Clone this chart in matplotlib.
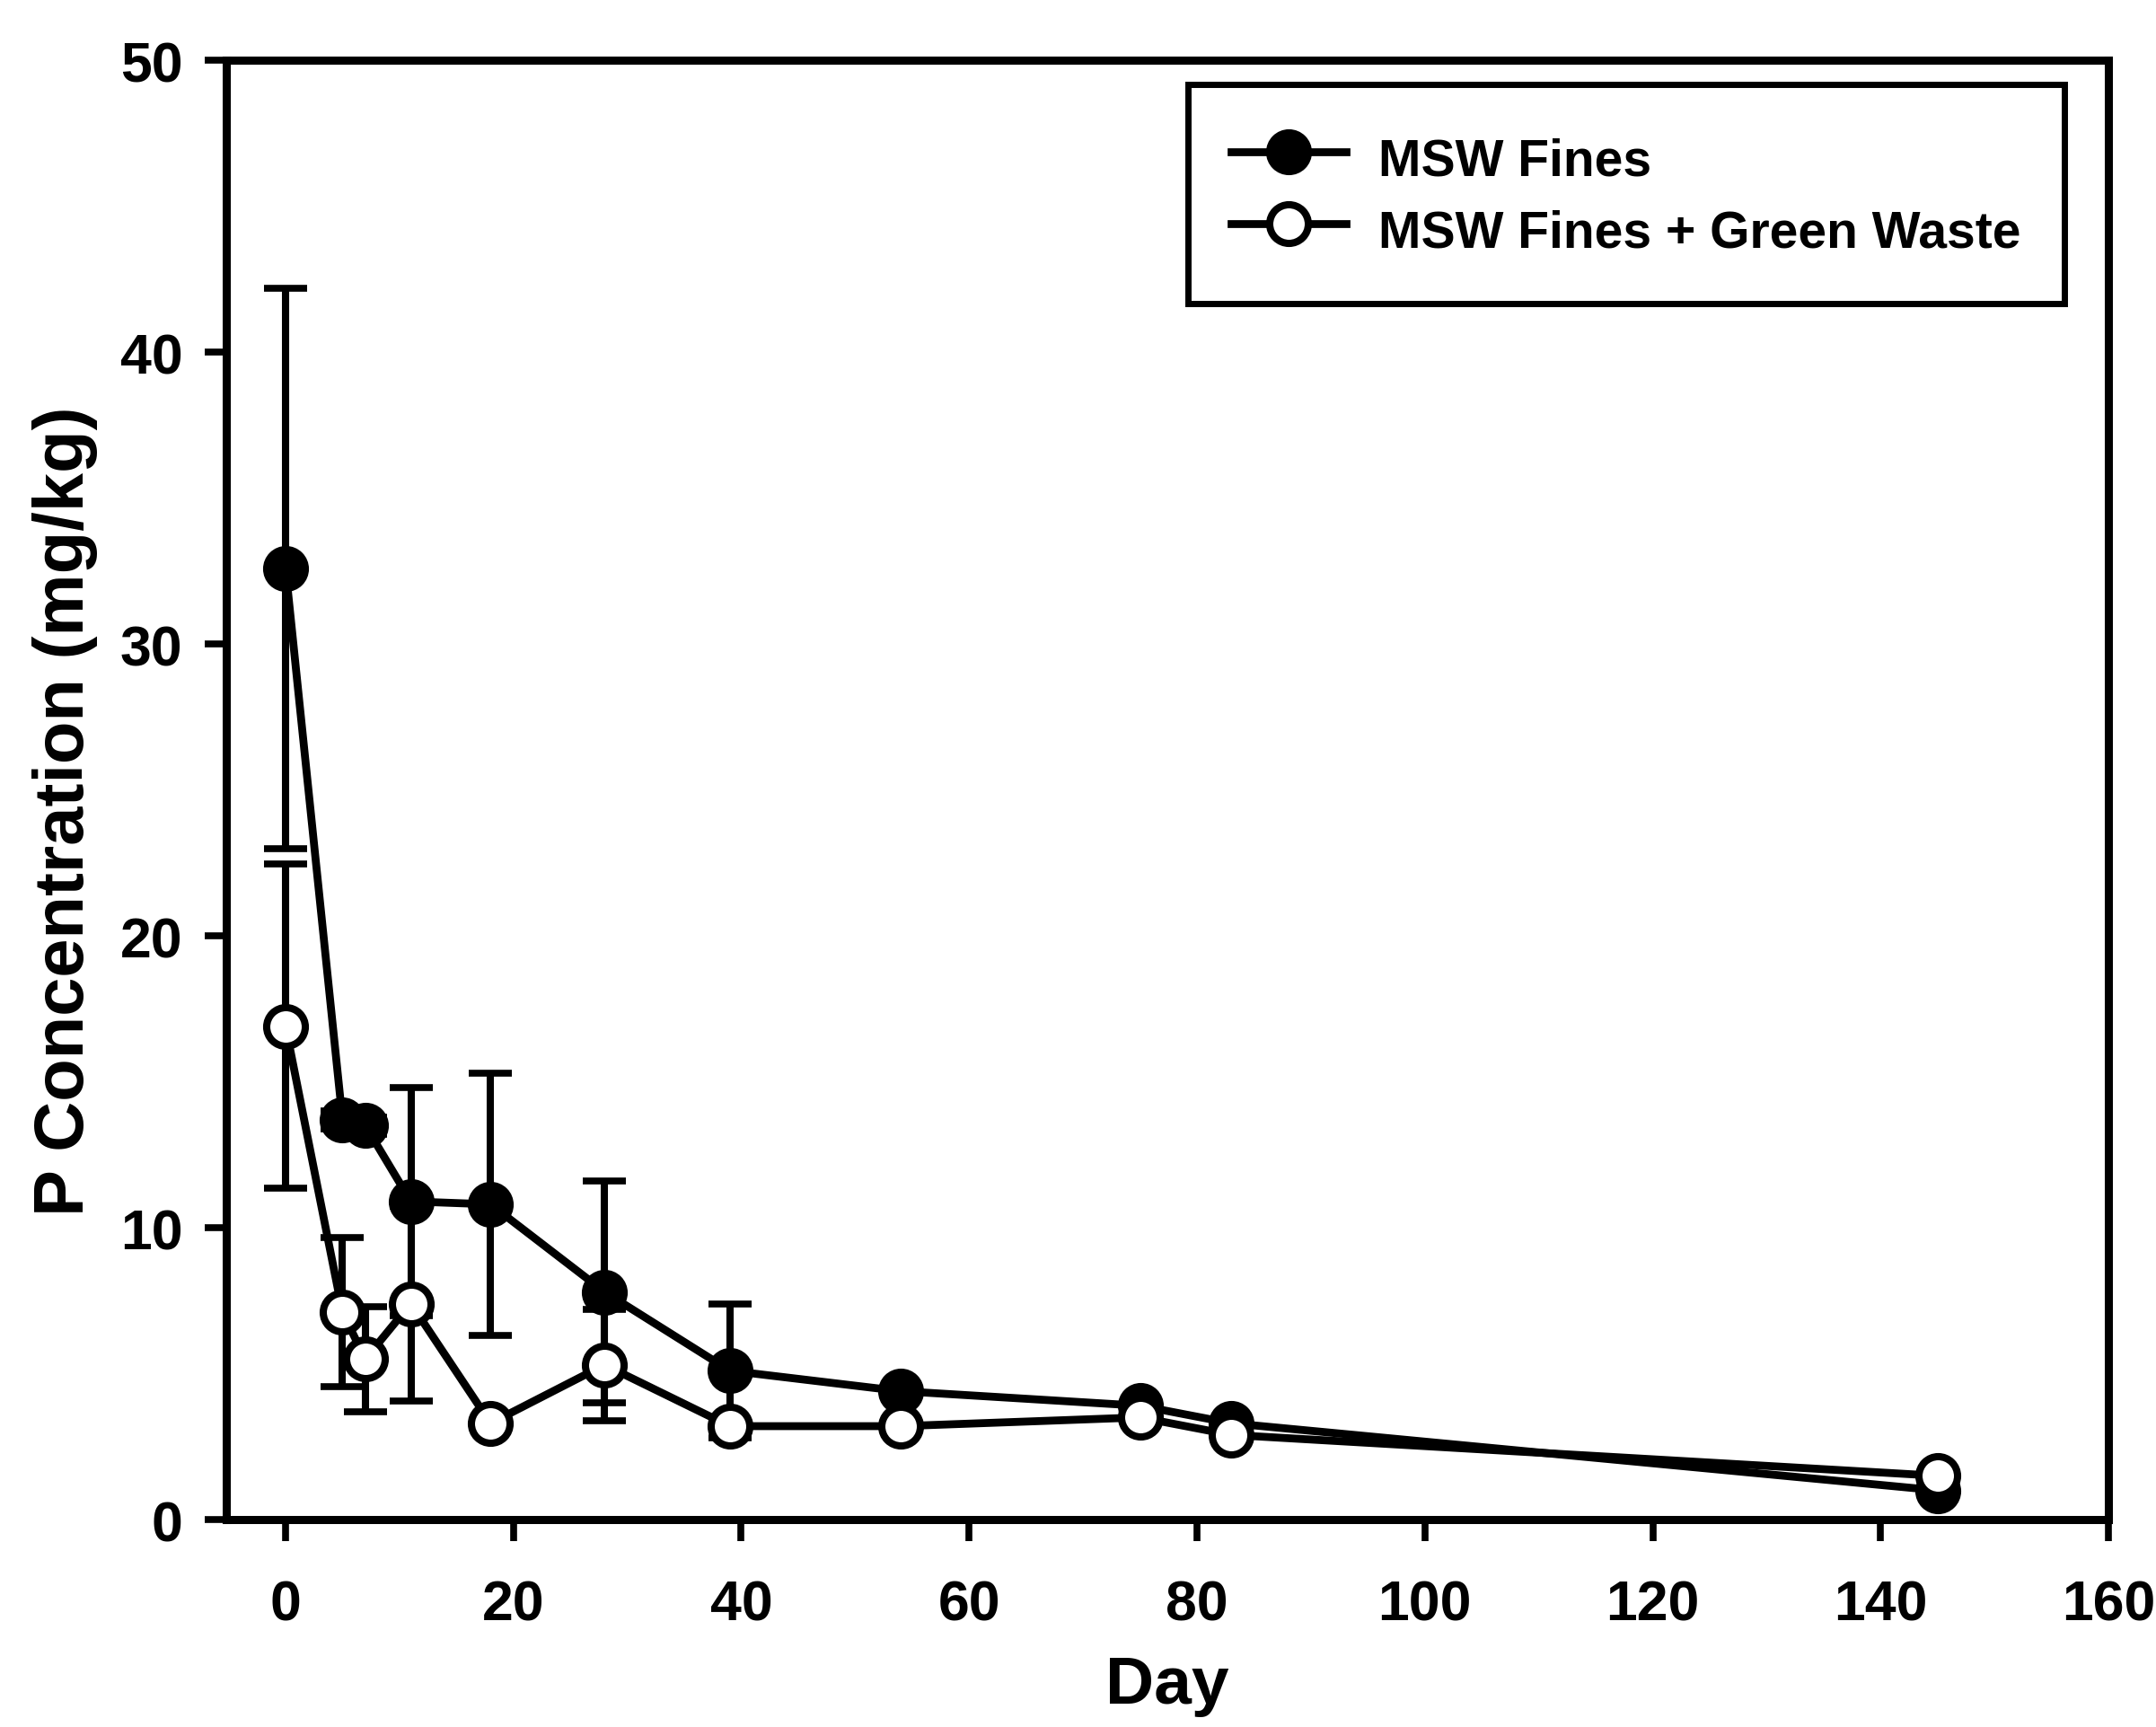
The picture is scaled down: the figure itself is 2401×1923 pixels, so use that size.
import matplotlib
matplotlib.use("Agg")
import matplotlib.pyplot as plt

# Sampling days
days = [0, 5, 7, 11, 18, 28, 39, 54, 75, 83, 145]

# P concentration (mg/kg), MSW fines alone
fines = [32.6, 13.7, 13.5, 10.9, 10.8, 7.8, 5.1, 4.4, 3.9, 3.3, 1.0]
fines_err = [9.6, 0.3, 0.3, 3.9, 4.5, 3.8, 2.3, 0.0, 0.0, 0.0, 0.0]

# P concentration (mg/kg), MSW fines mixed with green waste
green = [16.9, 7.1, 5.5, 7.4, 3.3, 5.3, 3.2, 3.2, 3.5, 2.9, 1.5]
green_err = [5.55, 2.55, 1.8, 3.35, 0.0, 1.9, 0.0, 0.0, 0.0, 0.0, 0.0]

x_ticks = [0, 20, 40, 60, 80, 100, 120, 140, 160]
y_ticks = [0, 10, 20, 30, 40, 50]

label_fines = "MSW Fines"
label_green = "MSW Fines + Green Waste"

plt.rcParams["font.family"] = ["Liberation Sans", "DejaVu Sans"]
plt.rcParams["font.weight"] = "bold"

fig = plt.figure(figsize=(24.01, 19.24), dpi=100)
ax = fig.add_axes([0.10496, 0.12006, 0.87297, 0.84459])

LW = 6.3
MS = 31
MEW = 5.8


def draw_errors(x, y, e):
    xs = [a for a, b in zip(x, e) if b > 0]
    ys = [a for a, b in zip(y, e) if b > 0]
    es = [b for b in e if b > 0]
    ax.errorbar(xs, ys, yerr=es, fmt="none", ecolor="black",
                elinewidth=5.8, capsize=17, capthick=5.5, zorder=2,
                clip_on=False)


draw_errors(days, fines, fines_err)
draw_errors(days, green, green_err)

l1, = ax.plot(days, fines, "-o", color="black", lw=LW, ms=MS,
              mfc="black", mec="black", mew=MEW, zorder=3, clip_on=False,
              label=label_fines)
l2, = ax.plot(days, green, "-o", color="black", lw=LW, ms=MS,
              mfc="white", mec="black", mew=MEW, zorder=4, clip_on=False,
              label=label_green)

ax.set_xlim(-5.2, 160)
ax.set_ylim(0, 50)
ax.set_xticks(x_ticks)
ax.set_yticks(y_ticks)

for s in ax.spines.values():
    s.set_linewidth(6.5)
ax.tick_params(axis="both", which="major", direction="out", length=17,
               width=5.5, labelsize=45, top=False, right=False)
ax.tick_params(axis="x", pad=30)
ax.tick_params(axis="y", pad=18)
for t in ax.get_xticklabels() + ax.get_yticklabels():
    t.set_fontweight("bold")

ax.set_xlabel("Day", fontsize=54, fontweight="bold")
ax.xaxis.set_label_coords(0.5, -0.092)
ax.set_ylabel("P Concentration (mg/kg)", fontsize=56, fontweight="bold")
ax.yaxis.set_label_coords(-0.068, 0.486)

leg = ax.legend(handles=[l1, l2], loc="upper left",
                bbox_to_anchor=(0.551, 0.9506), bbox_transform=fig.transFigure,
                fontsize=41, frameon=True, fancybox=False, shadow=False,
                framealpha=1, edgecolor="black", borderpad=0.85,
                labelspacing=0.24, handlelength=2.25, handletextpad=0.62,
                handleheight=1.42, borderaxespad=0, numpoints=1)
leg.get_frame().set_linewidth(5)
for t in leg.get_texts():
    t.set_fontweight("bold")

fig.savefig("out.png", dpi=100, facecolor="white")
